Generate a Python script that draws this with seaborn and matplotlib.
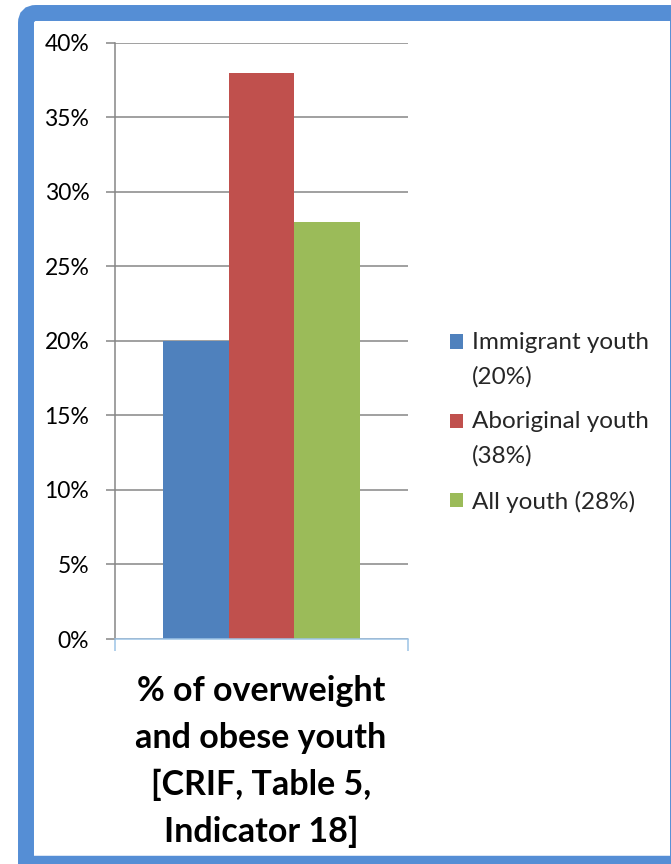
import matplotlib
matplotlib.use("Agg")
import matplotlib.pyplot as plt
import seaborn as sns
import pandas as pd
from matplotlib.path import Path
from matplotlib.patches import PathPatch, Rectangle
from matplotlib.legend_handler import HandlerPatch
from matplotlib.ticker import PercentFormatter, FixedLocator

# Data
category = ["% of overweight\nand obese youth\n[CRIF, Table 5,\nIndicator 18]"]
groups = ["Immigrant youth\n(20%)", "Aboriginal youth\n(38%)", "All youth (28%)"]
values = [0.20, 0.38, 0.28]
colors = ["#4F81BD", "#C0504D", "#9BBB59"]
yticks = [0, 0.05, 0.10, 0.15, 0.20, 0.25, 0.30, 0.35, 0.40]

df = pd.DataFrame({"cat": category * len(groups), "group": groups, "value": values})

sns.set_theme(style="white")
plt.rcParams["font.family"] = ["Lato", "DejaVu Sans"]

W, H = 671, 864
fig = plt.figure(figsize=(W / 100, H / 100), dpi=100)
fig.patch.set_facecolor("white")

# Blue frame: rounded top-left corner, the other sides run off the canvas
x0, x1, y0, y1, r = 26 / W, 700 / W, -20 / H, (H - 13) / H, 10
rx, ry = r / W, r / H
verts = [(x0, y0), (x0, y1 - ry), (x0, y1), (x0 + rx, y1), (x1, y1), (x1, y0), (x0, y0)]
codes = [Path.MOVETO, Path.LINETO, Path.CURVE3, Path.CURVE3, Path.LINETO,
         Path.LINETO, Path.CLOSEPOLY]
fig.patches.append(PathPatch(Path(verts, codes), transform=fig.transFigure,
                             facecolor="none", edgecolor="#558ED5",
                             linewidth=11.5, clip_on=False))
# bottom band and right edge at the canvas border
fig.add_artist(plt.Line2D([26 / W, 1], [4.5 / H, 4.5 / H],
                          transform=fig.transFigure, color="#558ED5", linewidth=6.8))
fig.add_artist(plt.Line2D([670.5 / W, 670.5 / W], [0, (H - 13) / H],
                          transform=fig.transFigure, color="#558ED5", linewidth=1.4))

ax = fig.add_axes([115 / W, (H - 639) / H, (408 - 115) / W, (639 - 42.7) / H])

sns.barplot(data=df, x="cat", y="value", hue="group", palette=colors,
            width=0.67, saturation=1, ax=ax, legend=True)
for p in ax.patches:
    p.set_edgecolor("none")

ax.set_ylim(0, 0.4)
ax.set_xlim(-0.5, 0.5)
ax.yaxis.set_major_locator(FixedLocator(yticks))
ax.yaxis.set_major_formatter(PercentFormatter(1.0, decimals=0))
ax.grid(axis="y", color="#868686", linewidth=1.1)
ax.set_axisbelow(True)

for s in ["top", "right"]:
    ax.spines[s].set_visible(False)
ax.spines["left"].set_color("#868686")
ax.spines["left"].set_linewidth(1.1)
ax.spines["bottom"].set_color("#9DC3E6")
ax.spines["bottom"].set_linewidth(1.1)

ax.tick_params(axis="y", which="major", direction="out", length=6.5, width=1.1,
               color="#868686", labelsize=16.5, labelcolor="#000000", pad=12,
               left=True)
ax.set_xticks([])
ax.set_xticks([-0.5, 0.5], minor=True)
ax.tick_params(axis="x", which="minor", direction="out", length=8.5, width=1.1,
               color="#9DC3E6", bottom=True)
ax.set_xlabel("")
ax.set_ylabel("")

fig.text(261 / W, (H - 675) / H, category[0], ha="center", va="top",
         ma="center", fontsize=24.5, fontweight="bold", linespacing=1.57,
         color="#000000")


class FirstLinePatch(HandlerPatch):
    """Square legend key lifted to sit beside the first line of its label."""

    def __init__(self, lift_pt=0.0, **kw):
        super().__init__(**kw)
        self.lift = lift_pt

    def create_artists(self, legend, orig_handle, xdescent, ydescent, width,
                       height, fontsize, trans):
        p = Rectangle((-xdescent, -ydescent + self.lift), width, height)
        self.update_prop(p, orig_handle, legend)
        p.set_transform(trans)
        return [p]


fs = 17.5
line_px = 36
handles, labels = ax.get_legend_handles_labels()
hmap = {}
for h_, lab in zip(handles, labels):
    nlines = lab.count("\n") + 1
    hmap[h_] = FirstLinePatch(lift_pt=(nlines - 1) * line_px / 2 * 0.72)
leg = ax.legend(handles, labels, loc="upper left", handler_map=hmap,
                bbox_to_anchor=(450 / W, (H - 332) / H), bbox_transform=fig.transFigure,
                frameon=False, fontsize=fs, handlelength=0.54, handleheight=0.54,
                handletextpad=0.38, labelspacing=0.97, borderaxespad=0, borderpad=0)
for t in leg.get_texts():
    t.set_linespacing(1.75)

fig.savefig("out.png", dpi=100, facecolor="white")
